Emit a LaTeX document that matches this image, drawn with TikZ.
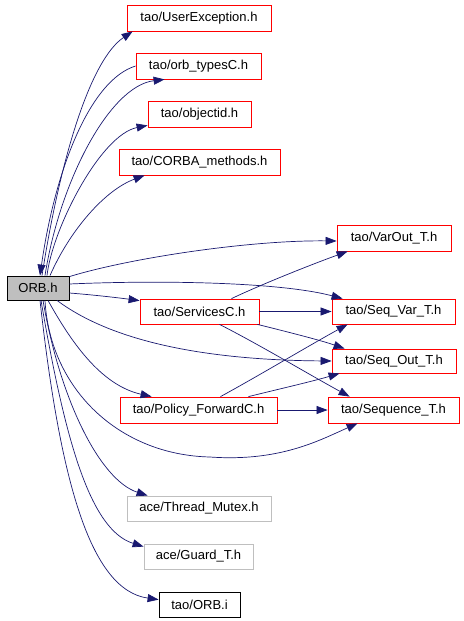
\documentclass[tikz,border=0pt]{standalone}
\usepackage{fontspec}
\setmainfont{Liberation Sans}
\usetikzlibrary{arrows.meta,calc}
\definecolor{edgeblue}{RGB}{25,25,112}
\definecolor{boxgray}{RGB}{191,191,191}
\begin{document}
\begin{tikzpicture}[x=1bp,y=-1bp,
  box/.style={draw=red,line width=0.8bp,inner sep=0pt,minimum height=26bp,font=\fontsize{13bp}{15bp}\selectfont},
  acebox/.style={box,draw=boxgray},
  blackbox/.style={box,draw=black},
  mainbox/.style={box,draw=black,fill=boxgray},
  dep/.style={draw=edgeblue,line width=0.7bp,-{Triangle[length=11bp,width=8bp]}}]
\useasboundingbox (0,0) rectangle (464,621);
\node[box,minimum width=144bp] (ue) at (199,18) {tao/UserException.h};
\node[box,minimum width=125bp] (otc) at (198.5,66) {tao/orb\_typesC.h};
\node[box,minimum width=103bp] (oid) at (199.5,114) {tao/objectid.h};
\node[box,minimum width=161bp] (cm) at (199.5,162) {tao/CORBA\_methods.h};
\node[box,minimum width=114bp] (vo) at (394,238) {tao/VarOut\_T.h};
\node[mainbox,minimum width=62bp,minimum height=24bp] (orb) at (38,288) {ORB.h};
\node[box,minimum width=119bp,minimum height=25bp] (sc) at (199.5,311.5) {tao/ServicesC.h};
\node[box,minimum width=123bp,minimum height=25bp] (sv) at (393.5,311.5) {tao/Seq\_Var\_T.h};
\node[box,minimum width=124bp,minimum height=24bp] (so) at (394,361) {tao/Seq\_Out\_T.h};
\node[box,minimum width=157bp] (pf) at (198.5,410) {tao/Policy\_ForwardC.h};
\node[box,minimum width=131bp] (st) at (393.5,410) {tao/Sequence\_T.h};
\node[acebox,minimum width=144bp,minimum height=25bp] (tm) at (199,508.5) {ace/Thread\_Mutex.h};
\node[acebox,minimum width=109bp,minimum height=25bp] (gt) at (198.5,556.5) {ace/Guard\_T.h};
\node[blackbox,minimum width=81bp,minimum height=25bp] (oi) at (199.5,604.5) {tao/ORB.i};
% edges from ORB.h upward
\draw[dep] ($(orb.north)+(4,0)$) .. controls (60,160) and (90,60) .. ($(ue.south west)+(6,0)$);
\draw[dep] (otc.west) .. controls (90,80) and (55,170) .. ($(orb.north)+(2,0)$);
\draw[dep] ($(orb.north)+(7,0)$) .. controls (60,180) and (110,86) .. ($(otc.south west)+(29,0)$);
\draw[dep] ($(orb.north)+(9,0)$) .. controls (52,230) and (100,135) .. ($(oid.south west)+(0,-2)$);
\draw[dep] ($(orb.north)+(12,0)$) .. controls (70,230) and (105,190) .. ($(cm.south west)+(26,0)$);
% edges to the right
\draw[dep] ($(orb.north east)+(0,1)$) .. controls (130,258) and (250,240) .. ($(vo.west)+(0,3)$);
\draw[dep] ($(orb.east)+(0,-4)$) .. controls (160,280) and (280,282) .. ($(sv.north west)+(11,0)$);
\draw[dep] ($(orb.east)+(0,5)$) .. controls (95,295) and (120,298) .. ($(sc.north west)+(0,2)$);
\draw[dep] ($(orb.south)+(19,0)$) .. controls (110,340) and (200,360) .. (so.west);
\draw[dep] ($(orb.south)+(10,0)$) .. controls (70,340) and (100,385) .. ($(pf.north west)+(32,0)$);
\draw[dep] ($(orb.south)+(7,0)$) .. controls (50,390) and (120,455) .. (210,457) .. controls (280,462) and (320,440) .. ($(st.south west)+(30,0)$);
% edges downward
\draw[dep] ($(orb.south)+(5,0)$) .. controls (60,400) and (100,480) .. ($(tm.north west)+(21,0)$);
\draw[dep] ($(orb.south)+(3,0)$) .. controls (65,440) and (90,530) .. ($(gt.north west)+(0,3)$);
\draw[dep] ($(orb.south)+(2,0)$) .. controls (60,480) and (90,590) .. ($(oi.north west)+(0,8)$);
% ServicesC
\draw[dep] ($(sc.north)+(32,0)$) .. controls (260,285) and (310,265) .. ($(vo.south west)+(11,0)$);
\draw[dep] (sc.east) -- (sv.west);
\draw[dep] ($(sc.south east)+(-2,0)$) .. controls (280,330) and (320,340) .. ($(so.north west)+(13,0)$);
\draw[dep] ($(sc.south)+(20,0)$) .. controls (260,345) and (310,375) .. ($(st.north west)+(22,0)$);
% Policy_ForwardC
\draw[dep] ($(pf.north)+(22,0)$) .. controls (260,375) and (310,345) .. ($(sv.south west)+(16,0)$);
\draw[dep] ($(pf.north)+(50,0)$) .. controls (275,390) and (310,382) .. ($(so.south west)+(8,0)$);
\draw[dep] (pf.east) -- (st.west);
\end{tikzpicture}
\end{document}
